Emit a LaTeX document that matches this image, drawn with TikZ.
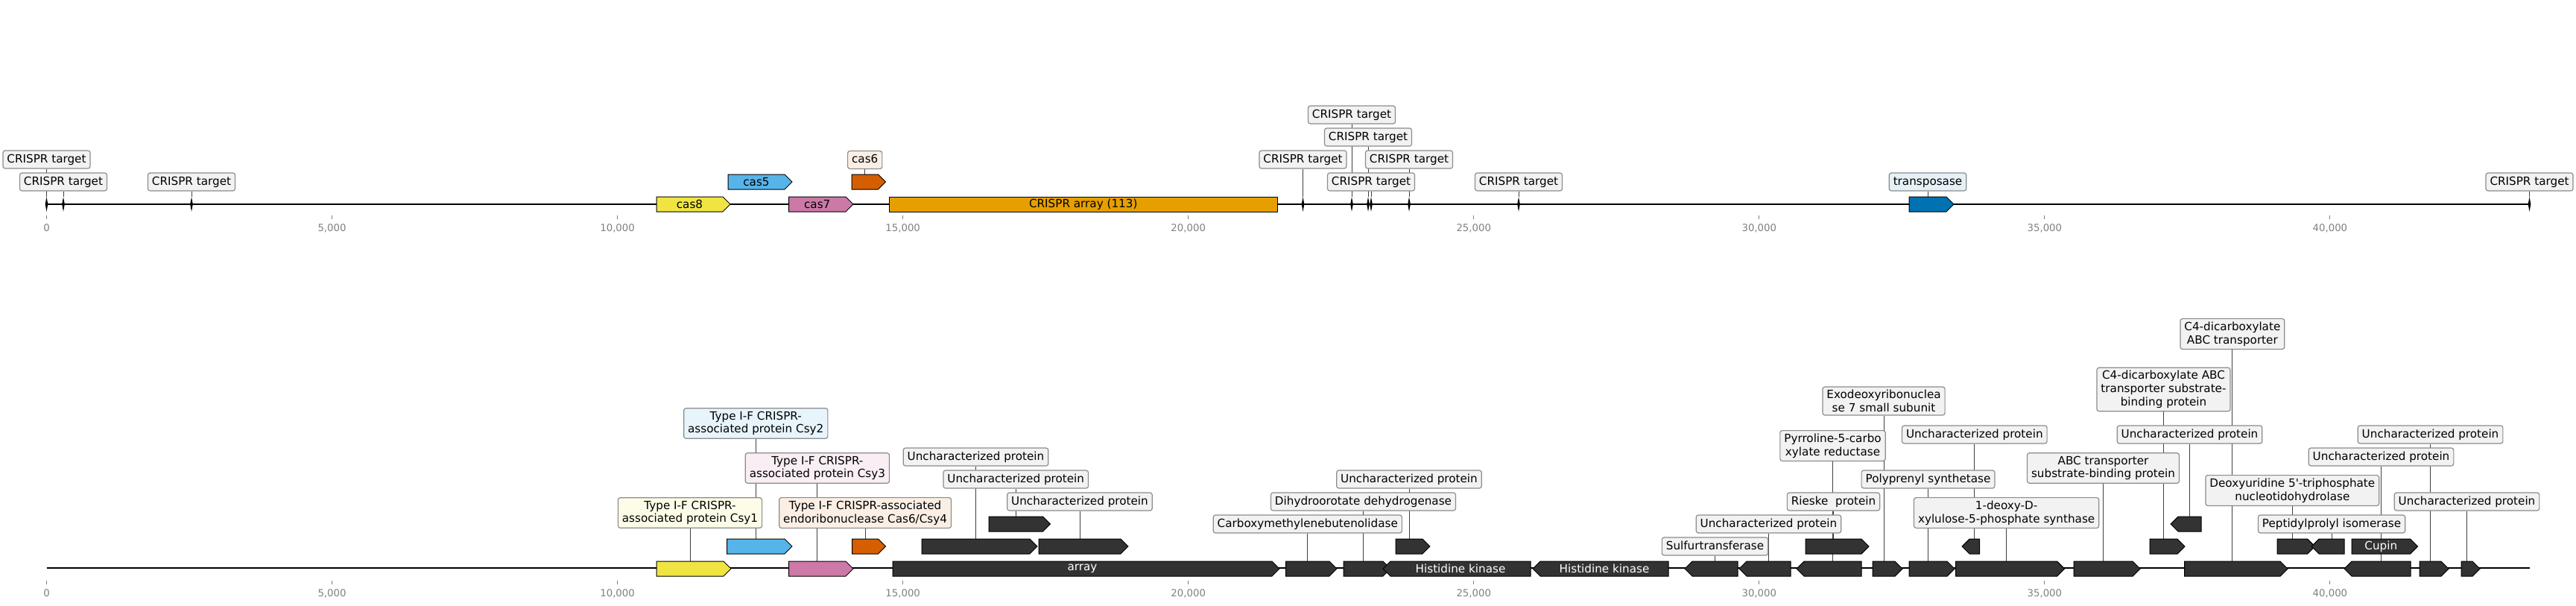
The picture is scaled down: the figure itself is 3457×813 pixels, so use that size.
\documentclass[tikz,border=0pt]{standalone}
\usepackage{fontspec}
\setmainfont{DejaVu Sans}
\usetikzlibrary{shapes.symbols,shapes.geometric,backgrounds}

\definecolor{casyellow}{HTML}{F0E442}
\definecolor{casblue}{HTML}{56B4E9}
\definecolor{caspink}{HTML}{CC79A7}
\definecolor{casorange}{HTML}{D55E00}
\definecolor{arrayorange}{HTML}{E69F00}
\definecolor{tnpblue}{HTML}{0072B2}
\definecolor{genedark}{HTML}{333333}
\definecolor{labgray}{HTML}{F2F2F2}
\colorlet{labyellow}{casyellow!12!white}
\colorlet{labblue}{casblue!14!white}
\colorlet{labpink}{caspink!13!white}
\colorlet{laborange}{casorange!10!white}
\colorlet{labtnp}{tnpblue!10!white}

\newcommand{\labfont}{\fontsize{7.6}{8.85}\selectfont}
\newcommand{\tickfont}{\fontsize{6.65}{8}\selectfont}
\newcommand{\unkprot}{Uncharacterized protein\ }

\begin{document}
\begin{tikzpicture}[x=0.5pt,y=-0.5pt,
    gene/.style={signal,signal pointer angle=90,draw=black,line width=0.5pt,
      inner sep=0pt,minimum height=10pt,font=\labfont},
    labbox/.style={draw=black!45,line width=0.6pt,rounded corners=1.5pt,fill=labgray,
      inner xsep=2.75pt,inner ysep=2.1pt,font=\labfont},
    lab/.style={labbox,align=center},
    lab1/.style={labbox,text height=5.9pt,text depth=1.9pt},
    hit/.style={diamond,fill=black,inner sep=0pt,minimum width=2pt,minimum height=10pt},
    lead/.style={black!75,line width=0.45pt},
    axis/.style={black,line width=1.1pt},
    tick/.style={black!50,line width=0.5pt},
    ticklab/.style={font=\tickfont,text=black!50,inner sep=0pt}]
\useasboundingbox (0,0) rectangle (3457,813);

% axes
\coordinate (topL) at (62.5,274);
\coordinate (topR) at (3394.5,274);
\coordinate (botL) at (62.5,762);
\coordinate (botR) at (3394.5,762);
\foreach \k/\t in {0/0,1/{5,000},2/{10,000},3/{15,000},4/{20,000},5/{25,000},6/{30,000},7/{35,000},8/{40,000}}{
  \draw[tick] ({62.5+383.05*\k},289) -- ++(0,5);
  \node[ticklab] (tt\k) at ({62.5+383.05*\k},306) {\t};
  \draw[tick] ({62.5+383.05*\k},779) -- ++(0,5);
  \node[ticklab] (bt\k) at ({62.5+383.05*\k},796) {\t};
}

% top track: genes
\foreach \nm/\a/\b/\y/\d/\c/\txt in {
    cas8/876/975/274/east/casyellow/cas8,
    cas5/972/1058/244/east/casblue/cas5,
    cas7/1053.5/1140/274/east/caspink/cas7,
    cas6/1138/1183.5/244/east/casorange/{},
    tnp/2557/2617/274/east/tnpblue/{}}
  \node[gene,signal to=\d,fill=\c,minimum width={(\b-\a)*0.5pt}] (\nm) at ({(\a+\b)/2},\y) {\txt};
\node[draw=black,line width=0.5pt,fill=arrayorange,inner sep=0pt,minimum width=260.25pt,
  minimum height=10pt,font=\labfont] (arr) at (1453.75,274) {CRISPR array (113)};

% top track: CRISPR targets
\foreach \i/\x/\y in {1/62.5/214,2/85/244,3/257/244,4/1748.5/214,5/1814/154,
    6/1836/184,7/1840/244,8/1891/214,9/2038/244,10/3394.5/244}{
  \node[hit] (m\i) at (\x,274) {};
  \node[lab1] (lm\i) at (m\i |- 0,\y) {CRISPR target};
}
\node[lab1,fill=laborange] (lcas6) at (cas6 |- 0,214.5) {cas6};
\node[lab1,fill=labtnp] (ltnp) at (tnp |- 0,244) {transposase};

% bottom track: genes
\foreach \nm/\a/\b/\y/\d/\c/\txt in {
    b1/876/976/763/east/casyellow/{},
    b2/970.5/1058/733/east/casblue/{},
    b3/1053.7/1140/763/east/caspink/{},
    b4/1138.7/1183.5/733/east/casorange/{},
    b5/1193/1712/763/east/genedark/array,
    b6/1232/1387/733/east/genedark/{},
    b7/1322/1404.5/703/east/genedark/{},
    b8/1389/1509/733/east/genedark/{},
    b9/1720.5/1789/763/east/genedark/{},
    b10/1798/1861/763/east/genedark/{},
    b11/1868/1914/733/east/genedark/{},
    b12/1861/2059/763/west/genedark/Histidine kinase,
    b13/2062/2244/763/west/genedark/Histidine kinase,
    b14/2266/2337/763/west/genedark/{},
    b15/2339/2408/763/west/genedark/{},
    b16/2416/2503/763/west/genedark/{},
    b17/2418/2503/733/east/genedark/{},
    b18/2508/2548/763/east/genedark/{},
    b19/2557/2618/763/east/genedark/{},
    b20/2638/2661.6/733/west/genedark/{},
    b21/2619.6/2765.6/763/east/genedark/{},
    b22/2778/2867/763/east/genedark/{},
    b23/2880/2927/733/east/genedark/{},
    b24/2918/2959/703/west/genedark/{},
    b25/2926.7/3065/763/east/genedark/{},
    b26/3051/3101.6/733/east/genedark/{},
    b27/3107/3151/733/west/genedark/{},
    b28/3151/3239.5/733/east/genedark/Cupin,
    b29/3151/3240/763/west/genedark/{},
    b30/3242/3281/763/east/genedark/{},
    b31/3298/3323/763/east/genedark/{}}
  \node[gene,signal to=\d,fill=\c,text=white,minimum width={(\b-\a)*0.5pt}] (\nm) at ({(\a+\b)/2},\y) {\txt};

% bottom track: labels
\foreach \l/\g/\y/\s/\c/\txt in {
    l1/b1/688/lab/labyellow/{Type I-F CRISPR-\\associated protein Csy1},
    l2/b2/568/lab/labblue/{Type I-F CRISPR-\\associated protein Csy2},
    l3/b3/628/lab/labpink/{Type I-F CRISPR-\\associated protein Csy3},
    l4/b4/688/lab/laborange/{Type I-F CRISPR-associated\\endoribonuclease Cas6/Csy4},
    l6/b6/613/lab1/labgray/\unkprot,
    l7/b7/643/lab1/labgray/\unkprot,
    l8/b8/673/lab1/labgray/\unkprot,
    l9/b9/703/lab1/labgray/{Carboxymethylenebutenolidase\ },
    l10/b10/673/lab1/labgray/{Dihydroorotate dehydrogenase\ },
    l11/b11/643/lab1/labgray/\unkprot,
    l14/b14/733/lab1/labgray/{Sulfurtransferase\ },
    l15/b15/703/lab1/labgray/\unkprot,
    l16/b16/598/lab/labgray/{Pyrroline-5-carbo\\xylate reductase},
    l17/b17/673/lab1/labgray/{Rieske\ \ protein\ },
    l18/b18/538/lab/labgray/{Exodeoxyribonuclea\\se 7 small subunit},
    l19/b19/643/lab1/labgray/{Polyprenyl synthetase\ },
    l20/b20/583/lab1/labgray/\unkprot,
    l21/b21/688/lab/labgray/{1-deoxy-D-\\xylulose-5-phosphate synthase},
    l22/b22/628/lab/labgray/{ABC transporter\\substrate-binding protein},
    l23/b23/522.5/lab/labgray/{C4-dicarboxylate ABC\\transporter substrate-\\binding protein},
    l24/b24/583/lab1/labgray/\unkprot,
    l25/b25/448/lab/labgray/{C4-dicarboxylate\\ABC transporter},
    l26/b26/658/lab/labgray/{Deoxyuridine 5\textquotesingle-triphosphate\\nucleotidohydrolase},
    l27/b27/703/lab1/labgray/{Peptidylprolyl isomerase\ },
    l29/b29/613/lab1/labgray/\unkprot,
    l30/b30/583/lab1/labgray/\unkprot,
    l31/b31/673/lab1/labgray/\unkprot}
  \node[\s,fill=\c] (\l) at (\g |- 0,\y) {\txt};

\begin{pgfonlayer}{background}
  \draw[axis] (topL) -- (topR);
  \draw[axis] (botL) -- (botR);
  \foreach \i in {1,...,10}
    \draw[lead] (lm\i.south) -- (m\i.north);
  \draw[lead] (lcas6.south) -- (cas6.north);
  \draw[lead] (ltnp.south) -- (tnp.north);
  \foreach \l/\g in {l1/b1,l2/b2,l3/b3,l4/b4,l6/b6,l7/b7,l8/b8,l9/b9,l10/b10,
      l11/b11,l14/b14,l15/b15,l16/b16,l17/b17,l18/b18,l19/b19,l20/b20,l21/b21,
      l22/b22,l23/b23,l24/b24,l25/b25,l26/b26,l27/b27,l29/b29,l30/b30,l31/b31}
    \draw[lead] (\l.south) -- (\g.north);
\end{pgfonlayer}
\end{tikzpicture}
\end{document}
